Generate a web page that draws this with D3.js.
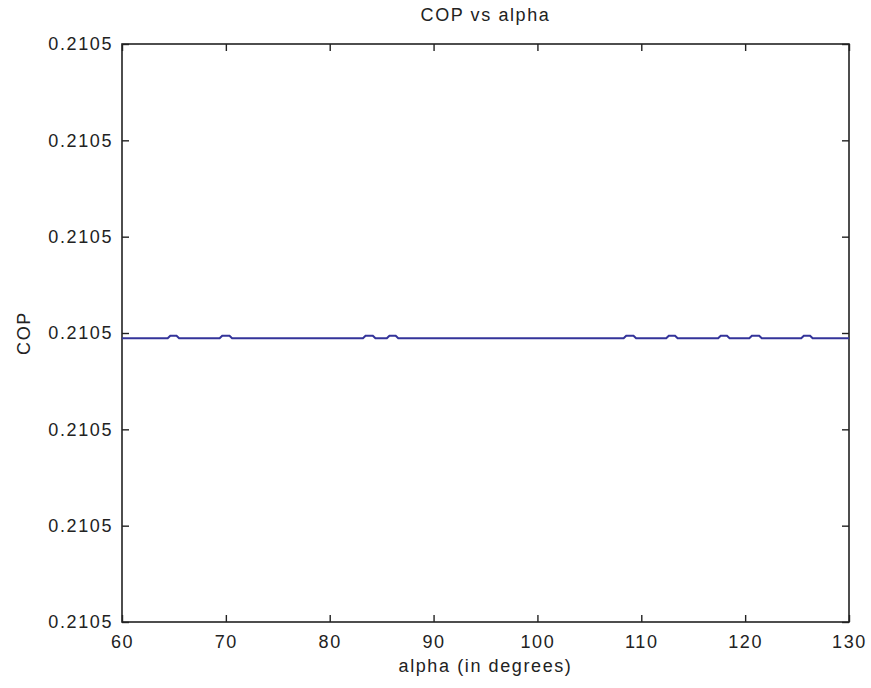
<!DOCTYPE html>
<html>
<head>
<meta charset="utf-8">
<script src="https://cdn.jsdelivr.net/npm/d3@7/dist/d3.min.js"></script>
<style>
  html, body { margin: 0; padding: 0; background: #fff; }
  text { font-family: "Liberation Sans", Arial, sans-serif; fill: #222; }
</style>
</head>
<body>
<svg id="chart" width="871" height="688"></svg>
<script>
// COP sampled against alpha (degrees); breakpoints of the curve
const alpha = [
  60, 64.4, 64.65, 65.25, 65.5,
  69.4, 69.65, 70.35, 70.6,
  83.2, 83.45, 84.15, 84.4,
  85.5, 85.75, 86.35, 86.6,
  108.3, 108.55, 109.25, 109.5,
  112.4, 112.65, 113.25, 113.5,
  117.4, 117.65, 118.25, 118.5,
  120.4, 120.65, 121.35, 121.6,
  125.4, 125.65, 126.25, 126.5,
  130
];
const cop = [
  0.2104999945, 0.2104999945, 0.2104999972, 0.2104999972, 0.2104999945,
  0.2104999945, 0.2104999972, 0.2104999972, 0.2104999945,
  0.2104999945, 0.2104999972, 0.2104999972, 0.2104999945,
  0.2104999945, 0.2104999972, 0.2104999972, 0.2104999945,
  0.2104999945, 0.2104999972, 0.2104999972, 0.2104999945,
  0.2104999945, 0.2104999972, 0.2104999972, 0.2104999945,
  0.2104999945, 0.2104999972, 0.2104999972, 0.2104999945,
  0.2104999945, 0.2104999972, 0.2104999972, 0.2104999945,
  0.2104999945, 0.2104999972, 0.2104999972, 0.2104999945,
  0.2104999945
];
const xTicks = [60, 70, 80, 90, 100, 110, 120, 130];
const yTicks = [0.2104997, 0.2104998, 0.2104999, 0.2105000, 0.2105001, 0.2105002, 0.2105003];

const svg = d3.select("#chart");
const plotL = 122, plotR = 849, plotT = 44, plotB = 622;

const x = d3.scaleLinear().domain([60, 130]).range([plotL, plotR]);
const y = d3.scaleLinear().domain([0.2104997, 0.2105003]).range([plotB, plotT]);
const fmt = d3.format(".4f");
const tickLen = 7;

// plot frame
svg.append("rect")
  .attr("x", plotL).attr("y", plotT)
  .attr("width", plotR - plotL).attr("height", plotB - plotT)
  .attr("fill", "#fff").attr("stroke", "#222").attr("stroke-width", 1.6);

// axes with inward ticks on all four sides
const styleAxis = g => {
  g.select(".domain").remove();
  g.selectAll(".tick line").attr("stroke", "#222").attr("stroke-width", 1.4);
  g.selectAll(".tick text")
    .style("font-family", "'Liberation Sans', Arial, sans-serif")
    .style("font-size", "18px")
    .style("letter-spacing", "1.6px")
    .attr("fill", "#222");
};

svg.append("g").attr("transform", `translate(0,${plotB})`)
  .call(d3.axisBottom(x).tickValues(xTicks).tickSizeInner(-tickLen).tickSizeOuter(0).tickPadding(13).tickFormat(d3.format("d")))
  .call(styleAxis);
svg.append("g").attr("transform", `translate(0,${plotT})`)
  .call(d3.axisTop(x).tickValues(xTicks).tickSizeInner(-tickLen).tickSizeOuter(0).tickFormat(""))
  .call(styleAxis);
svg.append("g").attr("transform", `translate(${plotL},0)`)
  .call(d3.axisLeft(y).tickValues(yTicks).tickSizeInner(-tickLen).tickSizeOuter(0).tickPadding(9).tickFormat(fmt))
  .call(styleAxis);
svg.append("g").attr("transform", `translate(${plotR},0)`)
  .call(d3.axisRight(y).tickValues(yTicks).tickSizeInner(-tickLen).tickSizeOuter(0).tickFormat(""))
  .call(styleAxis);

// data line
const line = d3.line().x((d, i) => x(alpha[i])).y(d => y(d));
svg.append("path")
  .datum(cop)
  .attr("fill", "none")
  .attr("stroke", "#34349a")
  .attr("stroke-width", 2)
  .attr("d", line);

// title and axis labels
svg.append("text")
  .attr("x", (plotL + plotR) / 2).attr("y", 21)
  .attr("text-anchor", "middle")
  .style("font-size", "18px").style("letter-spacing", "1.6px")
  .text("COP vs alpha");
svg.append("text")
  .attr("x", (plotL + plotR) / 2).attr("y", 672)
  .attr("text-anchor", "middle")
  .style("font-size", "18px").style("letter-spacing", "1.6px")
  .text("alpha (in degrees)");
svg.append("text")
  .attr("transform", `translate(30,${(plotT + plotB) / 2}) rotate(-90)`)
  .attr("text-anchor", "middle")
  .style("font-size", "18px").style("letter-spacing", "1.6px")
  .text("COP");
</script>
</body>
</html>
